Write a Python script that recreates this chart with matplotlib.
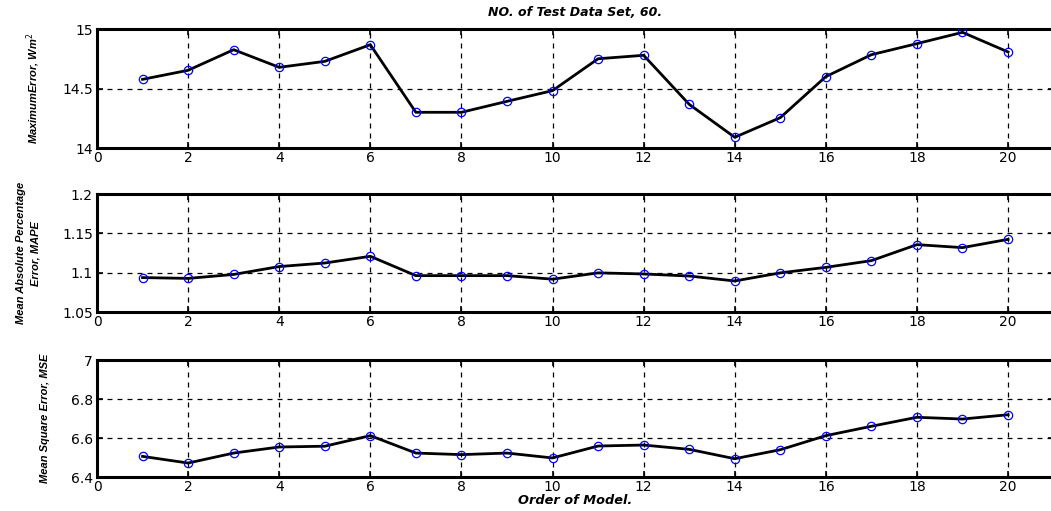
import numpy as np
import matplotlib
matplotlib.use("Agg")
import matplotlib.pyplot as plt
from matplotlib import font_manager

order = np.arange(1, 21)
max_error = [14.577, 14.653, 14.826, 14.678, 14.728, 14.868, 14.300, 14.300, 14.392, 14.482,
             14.750, 14.779, 14.367, 14.090, 14.255, 14.600, 14.784, 14.877, 14.972, 14.807]
mape = [1.094, 1.093, 1.098, 1.108, 1.1125, 1.121, 1.0965, 1.0965, 1.0965, 1.092,
        1.100, 1.0986, 1.096, 1.0897, 1.100, 1.107, 1.1155, 1.1358, 1.132, 1.1425]
mse = [6.507, 6.473, 6.524, 6.555, 6.559, 6.613, 6.524, 6.516, 6.524, 6.499,
       6.560, 6.565, 6.543, 6.495, 6.541, 6.613, 6.661, 6.707, 6.698, 6.720]

ylabels = ["MaximumError, Wm$^2$", "Mean Absolute Percentage\nError, MAPE", "Mean Square Error, MSE"]
ylims = [(14, 15), (1.05, 1.2), (6.4, 7)]
yticks = [[14, 14.5, 15], [1.05, 1.1, 1.15, 1.2], [6.4, 6.6, 6.8, 7]]
yticklabels = [["14", "14.5", "15"], ["1.05", "1.1", "1.15", "1.2"], ["6.4", "6.6", "6.8", "7"]]
xticks = list(range(0, 21, 2))

names = {f.name for f in font_manager.fontManager.ttflist}
narrow = "Liberation Sans Narrow" if "Liberation Sans Narrow" in names else "Liberation Sans"
plt.rcParams['font.family'] = ['DejaVu Sans']

W, H = 1051, 511
fig = plt.figure(figsize=(W / 100, H / 100), dpi=100)

# pixel boxes (top, bottom) for each panel, and where the y label's right side sits
rows = [(29, 148), (194, 312.3), (360, 477.3)]
label_x = [42, 40, 50]
left, right = 97, 1053.6
series = [max_error, mape, mse]

for i, (top, bot) in enumerate(rows):
    ax = fig.add_axes([left / W, 1 - bot / H, (right - left) / W, (bot - top) / H])
    ax.plot(order, series[i], color='black', lw=2, zorder=3)
    ax.plot(order, series[i], ls='none', marker='o', ms=6, mfc='none', mec='blue', mew=0.9, zorder=4)
    ax.set_xlim(0, 21)
    ax.set_ylim(*ylims[i])
    ax.set_xticks(xticks)
    ax.set_yticks(yticks[i])
    ax.set_yticklabels(yticklabels[i])
    ax.grid(True, color='black', ls=(0, (4, 4)), lw=0.9)
    ax.tick_params(direction='in', length=4, width=1.2, labelsize=10, right=True, top=True, pad=3)
    ax.tick_params(axis='x', pad=2)
    for s in ax.spines.values():
        s.set_linewidth(2.2)
    ax.set_ylabel(ylabels[i], fontsize=8, style='italic', weight='bold', family=narrow,
                  linespacing=1.5)
    ax.yaxis.set_label_coords((label_x[i] - left) / (right - left), 0.5)
    if i == 0:
        ax.set_title("NO. of Test Data Set, 60.", fontsize=9, style='italic', weight='bold', pad=9)
    if i == 2:
        ax.set_xlabel("Order of Model.", fontsize=9.3, style='italic', weight='bold', labelpad=0)

fig.savefig("out.png", dpi=100)
